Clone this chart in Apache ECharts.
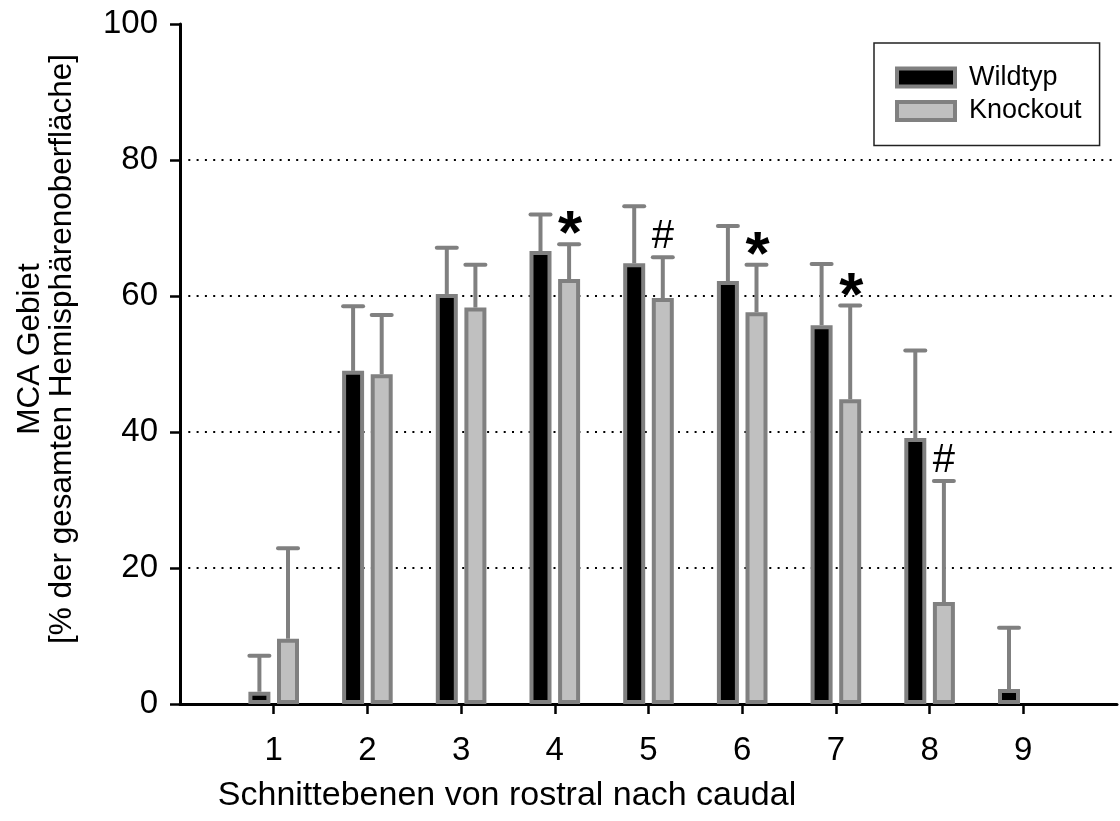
<!DOCTYPE html>
<html>
<head>
<meta charset="utf-8">
<script src="https://cdn.jsdelivr.net/npm/echarts@6/dist/echarts.min.js"></script>
<style>html,body{margin:0;padding:0;background:#fff}#chart{width:1120px;height:821px}</style>
</head>
<body>
<div id="chart"></div>
<script>
// ---- data ----
const categories = ['1','2','3','4','5','6','7','8','9'];
const wildtyp    = [1.8, 49.0, 60.3, 66.6, 64.8, 62.2, 55.7, 39.1, 2.2];
const wildtypErr = [5.3, 9.5, 6.8, 5.4, 8.4, 8.1, 9.0, 12.9, 9.0];
const knockout    = [9.6, 48.5, 58.3, 62.5, 59.7, 57.6, 44.8, 15.0, null];
const knockoutErr = [13.3, 8.7, 6.3, 5.1, 6.0, 7.0, 13.8, 17.8, null];
const annotations = ['', '', '', '*', '#', '*', '*', '#', ''];
const yTicks = [0, 20, 40, 60, 80, 100];
const seriesNames = ['Wildtyp', 'Knockout'];
const xTitle = 'Schnittebenen von rostral nach caudal';
const yTitle = ['MCA Gebiet', '[% der gesamten Hemisphärenoberfläche]'];

// ---- layout / style ----
const FONT = "'Liberation Sans', Arial, sans-serif";
const BAR_W = 22, BAR_GAP = 0.3;
const OFFSET = BAR_W * (1 + BAR_GAP) / 2;
const CAP_HALF = 10;
const GRAY = '#808080';

const axisCats = [''].concat(categories, ['']);
function pad(arr){ return [null].concat(arr, [null]); }

function errData(vals, errs){
  return vals.map((v, k) => [k + 1, v == null ? NaN : v, errs[k] == null ? NaN : errs[k], k]);
}

function makeErrRender(sign, withAnno){
  return function(params, api){
    const i = api.value(0), m = api.value(1), e = api.value(2), k = api.value(3);
    if (isNaN(m) || isNaN(e)) return null;
    const base = api.coord([i, m]);
    const top = api.coord([i, m + e]);
    const x = base[0] + sign * OFFSET;
    const children = [
      {type:'line', shape:{x1:x, y1:base[1], x2:x, y2:top[1]}, style:{stroke:GRAY, lineWidth:4}},
      {type:'line', shape:{x1:x-CAP_HALF, y1:top[1], x2:x+CAP_HALF, y2:top[1]}, style:{stroke:GRAY, lineWidth:4, lineCap:'round'}}
    ];
    if (withAnno) {
      const a = annotations[k];
      if (a) {
        const star = a === '*';
        children.push({type:'text', style:{
          text:a, x:x + (star ? 1 : 0), y:top[1] - (star ? 8 : 20),
          fill:'#000', align:'center', verticalAlign:'middle',
          font:(star ? 'bold 62px ' : '40px ') + FONT
        }});
      }
    }
    return {type:'group', children:children};
  };
}

const chart = echarts.init(document.getElementById('chart'));
chart.setOption({
  animation:false,
  backgroundColor:'#fff',
  grid:{left:180, right:-6, top:24, bottom:117, containLabel:false},
  legend:{
    orient:'vertical', left:874, top:43,
    padding:[21, 18, 21, 21],
    itemWidth:58, itemHeight:18, itemGap:6.5,
    borderColor:'#222', borderWidth:1.5,
    icon:'rect',
    textStyle:{fontFamily:FONT, fontSize:27, color:'#000', lineHeight:27, padding:[0,0,0,9]},
    data:[
      {name:seriesNames[0], itemStyle:{color:'#000', borderColor:GRAY, borderWidth:4}},
      {name:seriesNames[1], itemStyle:{color:'#c0c0c0', borderColor:GRAY, borderWidth:4}}
    ]
  },
  xAxis:{
    type:'category', data:axisCats, boundaryGap:false,
    axisLine:{show:true, lineStyle:{color:'#000', width:3}},
    axisTick:{show:true, length:10, lineStyle:{color:'#000', width:2.5},
      interval:function(idx, val){ return val !== ''; }},
    axisLabel:{fontFamily:FONT, fontSize:33, color:'#000', margin:30, interval:0},
    splitLine:{show:false}
  },
  yAxis:{
    type:'value', min:yTicks[0], max:yTicks[yTicks.length-1], interval:yTicks[1]-yTicks[0],
    axisLine:{show:true, lineStyle:{color:'#000', width:3}},
    axisTick:{show:true, length:10, lineStyle:{color:'#000', width:2.5}},
    axisLabel:{fontFamily:FONT, fontSize:33, color:'#000', margin:22},
    splitLine:{show:true, lineStyle:{color:['transparent','#000','#000','#000','#000','transparent'], width:2, type:[2,6.3]}}
  },
  graphic:[
    {type:'text', x:507, y:796, style:{text:xTitle, font:'34px ' + FONT, fill:'#000', align:'center', verticalAlign:'middle'}},
    {type:'text', x:46, y:349, rotation:Math.PI/2,
      style:{text:yTitle.join('\n'), font:'31.5px ' + FONT, fill:'#000', align:'center', verticalAlign:'middle', lineHeight:32}}
  ],
  series:[
    {name:seriesNames[0], type:'bar', data:pad(wildtyp), barWidth:BAR_W, barGap:(BAR_GAP*100)+'%', z:3,
      itemStyle:{color:'#000', borderColor:GRAY, borderWidth:4}},
    {name:seriesNames[1], type:'bar', data:pad(knockout), barWidth:BAR_W, barGap:(BAR_GAP*100)+'%', z:3,
      itemStyle:{color:'#c0c0c0', borderColor:GRAY, borderWidth:4}},
    {type:'custom', name:'errWT', data:errData(wildtyp, wildtypErr), z:2,
      encode:{x:0, y:1}, renderItem:makeErrRender(-1, false), silent:true},
    {type:'custom', name:'errKO', data:errData(knockout, knockoutErr), z:2,
      encode:{x:0, y:1}, renderItem:makeErrRender(1, true), silent:true}
  ]
});
</script>
</body>
</html>
